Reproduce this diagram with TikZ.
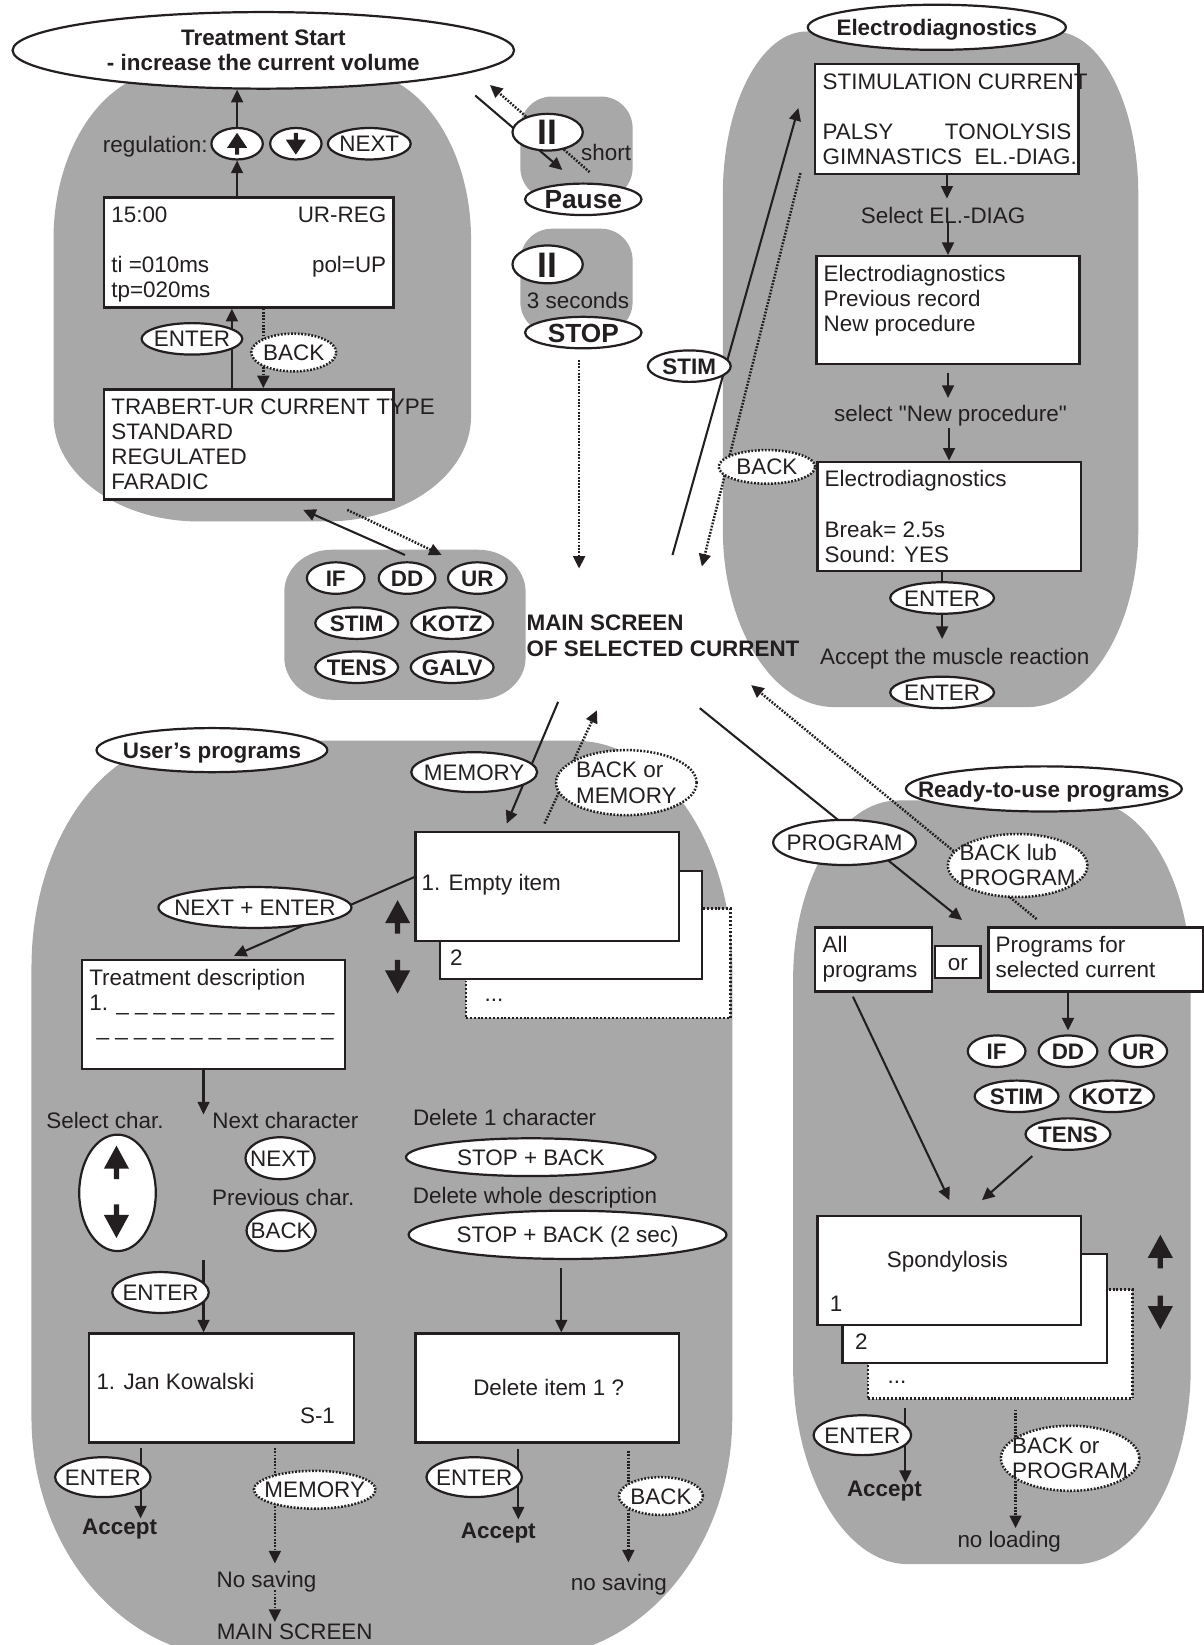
\documentclass[tikz,border=0pt]{standalone}
\usepackage{fontspec}
\setmainfont{Liberation Sans}
\newfontfamily\qfont{Liberation Sans}
\usepackage{xcolor}
\usepackage{tikz}
\usetikzlibrary{positioning,arrows.meta,shapes.geometric}
\definecolor{panelc}{HTML}{A8A8A8}
\definecolor{inkc}{HTML}{231F20}
\newlength{\pxu}\setlength{\pxu}{0.025cm}
\newcommand{\fnorm}{\fontsize{15.2}{17.07}\selectfont}
\newcommand{\fbtn}{\fontsize{17.8}{20}\selectfont\bfseries}
\newcommand{\fII}{\fontsize{24}{26}\selectfont\bfseries}
\newcommand{\kcap}[1]{\smash{\makebox[0pt]{\raisebox{-.36em}{#1}}}}
\newcommand{\kleft}[1]{\smash{\makebox[0pt][l]{\raisebox{-.36em}{#1}}}}
\newcommand{\lcdtext}[3]{\parbox[c][\dimexpr#2\pxu-14\pxu\relax][t]{\dimexpr#1\pxu-14\pxu\relax}{\strut#3}}
\newcommand{\grayblob}[8]{%
  \fill[panelc] (#1,{#2+#6}) .. controls (#1,{#2+0.45*#6}) and ({#1+0.45*#5},#2) .. ({#1+#5},#2)
    -- ({#3-#5},#2) .. controls ({#3-0.45*#5},#2) and (#3,{#2+0.45*#6}) .. (#3,{#2+#6})
    -- (#3,{#4-#8}) .. controls (#3,{#4-0.45*#8}) and ({#3-0.45*#7},#4) .. ({#3-#7},#4)
    -- ({#1+#7},#4) .. controls ({#1+0.45*#7},#4) and (#1,{#4-0.45*#8}) .. (#1,{#4-#8}) -- cycle;}
\pgfdeclarelayer{panels}\pgfdeclarelayer{wires}
\pgfsetlayers{panels,wires,main}
\tikzset{upk/.pic={\fill[inkc] (0,-16) -- (12,6) -- (2.5,6) -- (2.5,16) -- (-2.5,16) -- (-2.5,6) -- (-12,6) -- cycle;}}

\begin{document}
\begin{tikzpicture}[x=0.025cm, y=-0.025cm, font=\fnorm, text=inkc,
  kb/.style={ellipse, draw=inkc, fill=white, line width=1.5pt, inner sep=0pt},
  kbd/.style={kb, line width=1.7pt, dash pattern=on 1.2pt off 1.1pt},
  kbb/.style={kb, font=\fnorm\bfseries},
  sz/.style 2 args={minimum width=#1*0.025cm, minimum height=#2*0.025cm},
  lcd/.style={draw=inkc, fill=white, line width=1.6pt, inner sep=0.175cm, anchor=north west},
  card/.style={draw=inkc, fill=white, line width=1.6pt, inner sep=0pt, anchor=north west},
  cardd/.style={card, line width=1.8pt, dash pattern=on 1.3pt off 1.3pt},
  txt/.style={inner sep=0pt},
  wire/.style={line width=1.4pt, draw=inkc},
  dwire/.style={wire, line width=1.7pt, dash pattern=on 1.2pt off 1pt},
  arr/.style={wire, -{Triangle[length=8.5pt,width=8pt]}},
  darr/.style={dwire, -{Triangle[length=8.5pt,width=8pt]}}]
  \useasboundingbox (0,0) rectangle (1147,1568);
  \begin{pgfonlayer}{panels}
    \grayblob{51}{68}{449}{497}{110}{160}{138}{100}
    \grayblob{496}{92}{603}{190}{30}{30}{30}{30}
    \grayblob{496}{218}{603}{318}{30}{30}{30}{30}
    \grayblob{271}{524}{501}{667}{45}{40}{45}{40}
    \grayblob{689}{30}{1085}{674}{80}{155}{106}{169}
    \grayblob{30}{706}{698}{1580}{150}{216}{195}{229}
    \grayblob{756}{763}{1135}{1491}{100}{170}{110}{188}
  \end{pgfonlayer}

  % treatment start
  \node[kbb, sz={478}{73}] (start) at (251,48) {\kcap{\begin{tabular}{@{}c@{}}Treatment Start\\- increase the current volume\end{tabular}}};
  \node[txt] (treg) at (148,138) {\kcap{regulation:}};
  \node[kb, sz={49}{30}] (kup) at (226,137) {};
  \node[kb, sz={49}{30}] (kdn) at (282,137) {};
  \node[kb, sz={79}{30}] (knext) at (352,137) {\kcap{NEXT}};
  \pic[xscale=.8,yscale=.65] at (kup) {upk};
  \pic[xscale=.8,yscale=.65,rotate=180] at (kdn) {upk};
  \node[lcd] (lcdur) at (98,187) {\lcdtext{276}{105}{15:00\hfill UR-REG\\[24\pxu]ti =010ms\hfill pol=UP\\tp=020ms}};
  \node[lcd] (lcdtype) at (98,370) {\lcdtext{276}{105}{\mbox{TRABERT-UR CURRENT TYPE}\\STANDARD\\REGULATED\\FARADIC}};
  \node[kb, sz={96}{30}] (kenter) at (183,323) {\kcap{ENTER}};
  \node[kbd, sz={81}{36}] (kback) at (280,336) {\kcap{BACK}};

  % pause and stop
  \node[kb, sz={67}{35}, font=\fII] (kpause) at (522,126) {\kcap{II}};
  \node[txt] (tshort) at (554,145) {\kleft{short}};
  \node[kb, sz={111}{30}, font=\fbtn] (tpause) at (556,190) {\kcap{Pause}};
  \node[kb, sz={67}{36}, font=\fII] (kstop) at (522,252) {\kcap{II}};
  \node[txt] (tsec) at (551,286) {\kcap{3 seconds}};
  \node[kb, sz={111}{30}, font=\fbtn] (tstop) at (556,317) {\kcap{STOP}};

  % current keys
  \foreach \t/\x/\y/\w in {IF/320/551/55,DD/388/551/54,UR/455/551/56,STIM/340/594/79,KOTZ/431/594/78,TENS/340/636/79,GALV/431/636/79}
    \node[kbb, sz={\w}{30}] (c\t) at (\x,\y) {\kcap{\t}};
  \node[txt, font=\fnorm\bfseries] (tmain) at (632,606) {\kcap{\begin{tabular}{@{}l@{}}MAIN SCREEN\\OF SELECTED CURRENT\end{tabular}}};

  % electrodiagnostics
  \node[kbb, sz={246}{43}] (teld) at (893,26) {\kcap{Electrodiagnostics}};
  \node[lcd] (lcdstim) at (776,60) {\lcdtext{251}{105}{\mbox{STIMULATION CURRENT}\\[24\pxu]PALSY\hfill TONOLYSIS\\\mbox{GIMNASTICS~~EL.-DIAG.}}};
  \node[txt] (tsel) at (899,205) {\kcap{Select EL.-DIAG}};
  \node[lcd] (lcdmenu) at (777,243) {\lcdtext{251}{103}{Electrodiagnostics\\Previous record\\New procedure}};
  \node[txt] (tnew) at (906,394) {\kcap{\qfont select "New procedure"}};
  \node[lcd] (lcdproc) at (778,439) {\lcdtext{251}{104}{Electrodiagnostics\\[24\pxu]Break= 2.5s\\Sound: YES}};
  \node[kb, sz={99}{30}] (kent1) at (898,570) {\kcap{ENTER}};
  \node[txt] (tacc) at (910,626) {\kcap{Accept the muscle reaction}};
  \node[kb, sz={99}{30}] (kent2) at (898,660) {\kcap{ENTER}};
  \node[kbb, sz={79}{30}] (kstim) at (657,349) {\kcap{STIM}};
  \node[kbd, sz={92}{32}] (kback2) at (731,445) {\kcap{BACK}};

  % user's programs
  \node[kbb, sz={220}{42}] (tuser) at (202,715) {\kcap{User’s programs}};
  \node[kb, sz={120}{38}] (kmem) at (452,736) {\kcap{MEMORY}};
  \node[kbd, sz={134}{62}] (kbm) at (597,746) {\kcap{\begin{tabular}{@{}l@{}}BACK or\\MEMORY\end{tabular}}};
  \node[cardd, sz={252}{104}] (item3) at (443,865) {};
  \node[card, sz={250}{103}] (item2) at (418,829) {};
  \node[card, sz={251}{104}] (item1) at (395,792) {};
  \node[txt] (titem1) at (402,841) {\kleft{1. Empty item}};
  \node[txt] (titem2) at (429,913) {\kleft{2}};
  \node[txt] (titem3) at (462,947) {\kleft{...}};
  \pic at (379,874) {upk};
  \pic[rotate=180] at (379,931) {upk};
  \node[kb, sz={184}{39}] (knxe) at (243,865) {\kcap{NEXT + ENTER}};
  \node[lcd] (lcddesc) at (77,914) {\lcdtext{251}{104}{Treatment description\\1. \_ \_ \_ \_ \_ \_ \_ \_ \_ \_ \_ \_\\\hspace*{7\pxu}\_ \_ \_ \_ \_ \_ \_ \_ \_ \_ \_ \_ \_}};
  \node[txt] (tselc) at (100,1068) {\kcap{Select char.}};
  \node[txt] (tnextc) at (272,1068) {\kcap{Next character}};
  \node[txt] (tdel1) at (481,1065) {\kcap{Delete 1 character}};
  \node[kb, sz={73}{111}] (ksel) at (112,1137) {};
  \pic at (111,1108) {upk};
  \pic[rotate=180] at (111,1164) {upk};
  \node[kb, sz={66}{40}] (knext2) at (267,1104) {\kcap{NEXT}};
  \node[txt] (tprev) at (270,1141) {\kcap{Previous char.}};
  \node[kb, sz={66}{39}] (kback3) at (268,1173) {\kcap{BACK}};
  \node[txt] (tdelall) at (510,1139) {\kcap{Delete whole description}};
  \node[kb, sz={238}{36}] (ksb) at (506,1103) {\kcap{STOP + BACK}};
  \node[kb, sz={303}{46}] (ksb2) at (541,1177) {\kcap{STOP + BACK (2 sec)}};
  \node[kb, sz={92}{39}] (kent3) at (153,1232) {\kcap{ENTER}};
  \node[card, sz={252}{104}] (lcdname) at (84,1270) {};
  \node[txt] (tname) at (92,1317) {\kleft{1. Jan Kowalski}};
  \node[txt] (tslot) at (286,1349) {\kleft{S-1}};
  \node[card, sz={251}{104}] (lcddel) at (395,1270) {};
  \node[txt] (tdelq) at (523,1322) {\kcap{Delete item 1 ?}};
  \node[kb, sz={91}{38}] (kent4) at (98,1408) {\kcap{ENTER}};
  \node[txt, font=\fnorm\bfseries] (tacc1) at (114,1455) {\kcap{Accept}};
  \node[kbd, sz={116}{36}] (kmem2) at (300,1420) {\kcap{MEMORY}};
  \node[txt] (tnosave) at (254,1505) {\kcap{No saving}};
  \node[txt] (tmainscr) at (281,1555) {\kcap{MAIN SCREEN}};
  \node[kb, sz={91}{38}] (kent5) at (452,1408) {\kcap{ENTER}};
  \node[txt, font=\fnorm\bfseries] (tacc2) at (475,1459) {\kcap{Accept}};
  \node[kbd, sz={80}{36}] (kback4) at (630,1426) {\kcap{BACK}};
  \node[txt] (tnosave2) at (590,1508) {\kcap{no saving}};

  % ready-to-use programs
  \node[kbb, sz={263}{43}] (tready) at (995,752) {\kcap{Ready-to-use programs}};
  \node[kb, sz={136}{43}] (kprog) at (805,803) {\kcap{PROGRAM}};
  \node[kbd, sz={133}{60}] (kblp) at (970,825) {\kcap{\begin{tabular}{@{}l@{}}BACK lub\\PROGRAM\end{tabular}}};
  \node[lcd] (lcdall) at (776,883) {\lcdtext{111}{61}{All\\programs}};
  \node[card, sz={43}{30}, anchor=center] (bor) at (913,917) {\kcap{or}};
  \node[lcd] (lcdsel) at (941,883) {\lcdtext{205}{61}{Programs for\\selected current}};
  \foreach \t/\x/\y/\w in {IF/950/1002/55,DD/1018/1002/56,UR/1085/1002/55,STIM/969/1045/80,KOTZ/1060/1045/80,TENS/1018/1081/81}
    \node[kbb, sz={\w}{30}] (p\t) at (\x,\y) {\kcap{\t}};
  \node[cardd, sz={252}{104}] (prog3) at (826,1228) {};
  \node[card, sz={252}{104}] (prog2) at (802,1194) {};
  \node[card, sz={251}{104}] (prog1) at (778,1158) {};
  \node[txt] (tspon) at (903,1200) {\kcap{Spondylosis}};
  \node[txt] (tpr1) at (791,1242) {\kleft{1}};
  \node[txt] (tpr2) at (815,1279) {\kleft{2}};
  \node[txt] (tpr3) at (846,1311) {\kleft{...}};
  \pic at (1106,1193) {upk};
  \pic[rotate=180] at (1106,1251) {upk};
  \node[kb, sz={93}{38}] (kent6) at (822,1368) {\kcap{ENTER}};
  \node[txt, font=\fnorm\bfseries] (tacc3) at (843,1419) {\kcap{Accept}};
  \node[kbd, sz={132}{62}] (kbp) at (1020,1390) {\kcap{\begin{tabular}{@{}l@{}}BACK or\\PROGRAM\end{tabular}}};
  \node[txt] (tnoload) at (962,1467) {\kcap{no loading}};

  % free ends
  \coordinate (aPa) at (453,91);   \coordinate (aPb) at (536,162);
  \coordinate (aRa) at (562,164);  \coordinate (aRb) at (467,81);
  \coordinate (aMs) at (552,542);
  \coordinate (aTa) at (386,529);  \coordinate (aTb) at (289,486);
  \coordinate (aUa) at (331,486);  \coordinate (aUb) at (421,529);
  \coordinate (aSa) at (641,529);  \coordinate (aSb) at (761,103);
  \coordinate (aBa) at (763,165);  \coordinate (aBb) at (669,540);
  \coordinate (aMa) at (532,669);  \coordinate (aMb) at (483,785);
  \coordinate (aNa) at (519,785);  \coordinate (aNb) at (569,677);
  \coordinate (aGa) at (667,675);  \coordinate (aGb) at (917,877);
  \coordinate (aLa) at (988,876);  \coordinate (aLb) at (716,653);
  \coordinate (aEmp) at (395,836); \coordinate (aDesc) at (223,911);
  \coordinate (aAll) at (813,950); \coordinate (aSpA) at (905,1144);
  \coordinate (aTen) at (984,1102); \coordinate (aSpB) at (936,1144);
  \foreach \n/\x in {xE/221,xB/251,xD/194,xJ/134,xK/262,xS/535,xT/494,xU/599,xR/863,xQ/968}
    \coordinate (\n) at (\x,0);

  \begin{pgfonlayer}{wires}
    \draw[arr] (kup.north) -- (kup.north |- start.south);
    \draw[arr] (lcdur.north -| kup) -- (kup.south);
    \draw[arr] (lcdtype.north -| xE) -- (lcdur.south -| xE);
    \draw[darr] (lcdur.south -| xB) -- (lcdtype.north -| xB);
    \draw[arr] (aPa) -- (aPb);
    \draw[darr] (aRa) -- (aRb);
    \draw[darr, shorten <=0.25cm] (tstop.south -| aMs) -- (aMs);
    \draw[arr] (aTa) -- (aTb);
    \draw[darr] (aUa) -- (aUb);
    \draw[arr] (aSa) -- (aSb);
    \draw[darr] (aBa) -- (aBb);
    \draw[arr] (aMa) -- (aMb);
    \draw[darr] (aNa) -- (aNb);
    \draw[arr] (aGa) -- (aGb);
    \draw[darr] (aLa) -- (aLb);
    \draw[arr] (lcdstim.south) -- ++(0,22);
    \draw[arr] (lcdmenu.north |- tsel) ++(0,8) -- (lcdmenu.north);
    \draw[arr] (lcdmenu.south) ++(0,7) -- ++(0,24);
    \draw[arr] (lcdproc.north |- tnew) ++(0,14) -- (lcdproc.north);
    \draw[wire] (lcdproc.south -| kent1) -- (kent1);
    \draw[arr] (kent1.south) -- ++(0,23);
    \draw[arr] (aEmp) -- (aDesc);
    \draw[arr] (lcddesc.south -| xD) -- ++(0,42);
    \draw[arr] (lcdname.north -| xD) ++(0,-69) -- (lcdname.north -| xD);
    \draw[arr] (lcdname.south -| xJ) ++(0,4) -- ++(0,67);
    \draw[darr] (lcdname.south -| xK) ++(0,4) -- ++(0,110);
    \draw[darr] (tnosave -| xK) ++(0,11) -- ++(0,30);
    \draw[arr] (ksb2.south -| xS) ++(0,8) -- (lcddel.north -| xS);
    \draw[arr] (lcddel.south -| xT) ++(0,5) -- ++(0,67);
    \draw[darr] (lcddel.south -| xU) ++(0,7) -- ++(0,106);
    \draw[arr] (lcdsel.south -| pDD) -- ++(0,36);
    \draw[arr] (aAll) -- (aSpA);
    \draw[arr] (aTen) -- (aSpB);
    \draw[arr] (prog3.south -| xR) ++(0,8) -- ++(0,71);
    \draw[darr] (prog3.south -| xQ) ++(0,9) -- ++(0,113);
  \end{pgfonlayer}
\end{tikzpicture}
\end{document}
